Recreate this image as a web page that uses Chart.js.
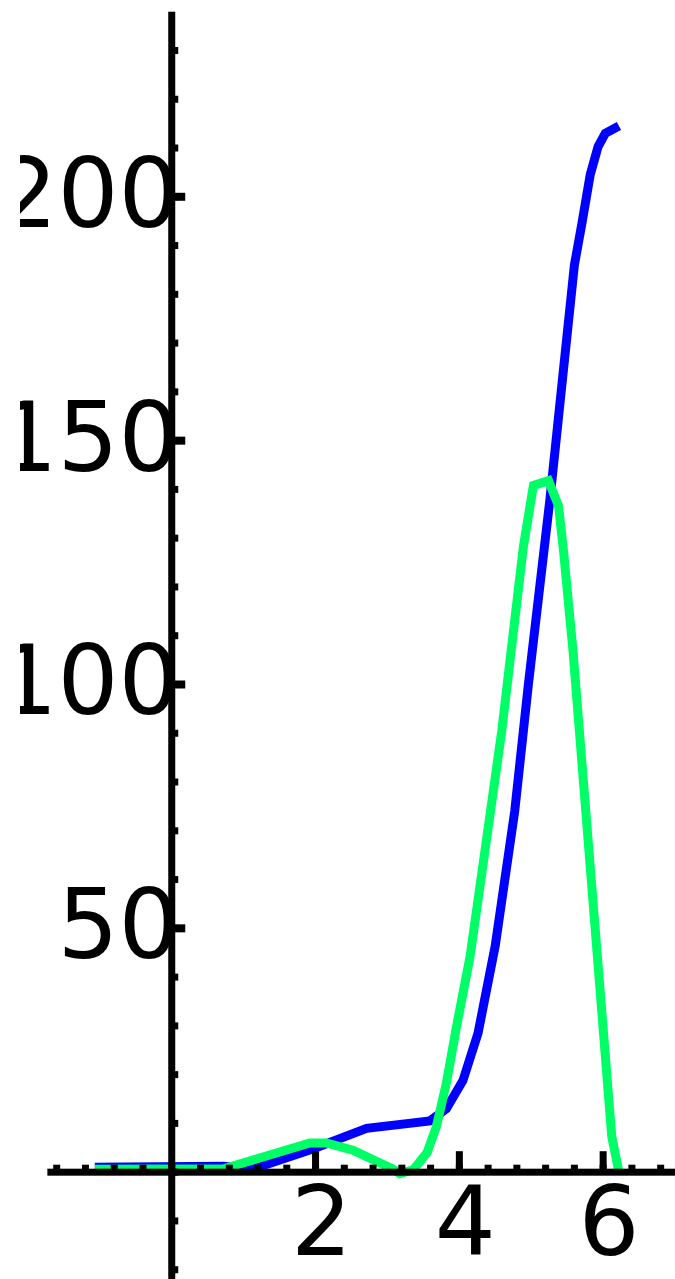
<!DOCTYPE html>
<html><head><meta charset="utf-8">
<script src="https://cdn.jsdelivr.net/npm/chart.js@4/dist/chart.umd.min.js"></script>
<style>
html,body{margin:0;padding:0;background:#fff;overflow:hidden;width:675px;height:1279px;}
#wrap{position:absolute;left:20px;top:0;width:655px;height:1279px;}
</style></head><body>
<div id="wrap"><canvas id="c"></canvas></div>
<script>
// ---- data ----
const blueX = [-1.07, 0.72, 1.12, 1.97, 2.71, 3.59, 3.82, 4.05, 4.26, 4.5, 4.77, 4.96, 5.26, 5.6, 5.71, 5.82, 5.93, 6.03, 6.22];
const blueY = [1.0, 1.2, 0.6, 4.8, 9.0, 10.5, 13.0, 18.8, 28.5, 46.5, 74, 100, 138, 186, 195, 204.5, 210.3, 213, 214.5];
const greenX = [-1.07, 0.72, 1.92, 2.15, 2.52, 3.08, 3.17, 3.36, 3.55, 3.68, 3.82, 3.96, 4.15, 4.59, 4.89, 5.03, 5.24, 5.38, 5.45, 5.58, 6.12, 6.22];
const greenY = [0.6, 0.7, 6.0, 6.0, 4.5, 0.6, -0.3, 0.5, 4.0, 9.3, 18.3, 29.8, 44.3, 90.5, 128.2, 140.8, 141.8, 136.6, 127.2, 107, 7.3, 0];
const xTickLabels = [2, 4, 6];
const yTickLabels = [50, 100, 150, 200];
const xMajorTicks = [2, 4, 6];
const yMajorTicks = [50, 100, 150, 200];
const xMinorStep = 0.4;
const yMinorStep = 10;
const xRange = [-2.1106, 6.9993];
const yRange = [-21.9, 240.35];
const xAxisStart = -1.73;
const yAxisTop = 237.95;
const yLabelAnchorX = 0.11;   // y tick labels end just under the axis line

const toPts = (xs, ys) => xs.map((x, i) => ({x: x, y: ys[i]}));

const axesPlugin = {
  id: 'centerAxes',
  afterDatasetsDraw(chart) {
    const ctx = chart.ctx, xs = chart.scales.x, ys = chart.scales.y;
    const x0 = xs.getPixelForValue(0), y0 = ys.getPixelForValue(0);
    ctx.save();
    ctx.fillStyle = '#000';
    const xa = xs.getPixelForValue(xAxisStart);
    ctx.fillRect(xa, y0 - 3.5, chart.width - xa, 7);
    const yt = ys.getPixelForValue(yAxisTop);
    ctx.fillRect(x0 - 3.5, yt, 7, chart.height - yt + 5);
    for (let k = Math.ceil(xAxisStart / xMinorStep); k * xMinorStep <= xRange[1]; k++) {
      const px = xs.getPixelForValue(k * xMinorStep);
      ctx.fillRect(px - 3.5, y0 - 7.5, 7, 7.5);
    }
    xMajorTicks.forEach(v => {
      const px = xs.getPixelForValue(v);
      ctx.fillRect(px - 3.5, y0 - 21, 7, 21);
    });
    for (let k = Math.ceil(yRange[0] / yMinorStep); k * yMinorStep <= yAxisTop; k++) {
      const py = ys.getPixelForValue(k * yMinorStep);
      ctx.fillRect(x0, py - 3.5, 6.5, 7);
    }
    yMajorTicks.forEach(v => {
      const py = ys.getPixelForValue(v);
      ctx.fillRect(x0, py - 4, 13.5, 8);
    });
    ctx.restore();
  }
};

const tickFont = {family: 'DejaVu Sans', size: 96};

new Chart(document.getElementById('c'), {
  type: 'line',
  data: {
    datasets: [
      {data: toPts(blueX, blueY), order: 2, borderColor: '#0000ff', borderWidth: 9, pointRadius: 0, fill: false, tension: 0, borderJoinStyle: 'miter'},
      {data: toPts(greenX, greenY), order: 1, borderColor: '#00ff66', borderWidth: 9, pointRadius: 0, fill: false, tension: 0, borderJoinStyle: 'miter'}
    ]
  },
  options: {
    responsive: true,
    maintainAspectRatio: false,
    animation: false,
    events: [],
    layout: {padding: 0},
    plugins: {legend: {display: false}, tooltip: {enabled: false}, title: {display: false}},
    scales: {
      x: {
        type: 'linear', axis: 'x', position: {y: 0},
        min: xRange[0], max: xRange[1],
        grid: {display: false, drawTicks: false},
        border: {display: false},
        afterFit: s => { s.height = 0; s.paddingLeft = 0; s.paddingRight = 0; s.paddingTop = 0; s.paddingBottom = 0; },
        afterBuildTicks: s => { s.ticks = xTickLabels.map(v => ({value: v})); },
        ticks: {font: tickFont, color: '#000', padding: 0, labelOffset: 6, autoSkip: false, maxRotation: 0, callback: v => String(v)}
      },
      y: {
        type: 'linear', axis: 'y', position: {x: yLabelAnchorX},
        min: yRange[0], max: yRange[1],
        grid: {display: false, drawTicks: false},
        border: {display: false},
        afterFit: s => { s.width = 0; s.paddingLeft = 0; s.paddingRight = 0; s.paddingTop = 0; s.paddingBottom = 0; },
        afterBuildTicks: s => { s.ticks = yTickLabels.map(v => ({value: v})); },
        ticks: {font: tickFont, color: '#000', padding: 0, labelOffset: 5, autoSkip: false, callback: v => String(v)}
      }
    }
  },
  plugins: [axesPlugin]
});
</script>
</body></html>
